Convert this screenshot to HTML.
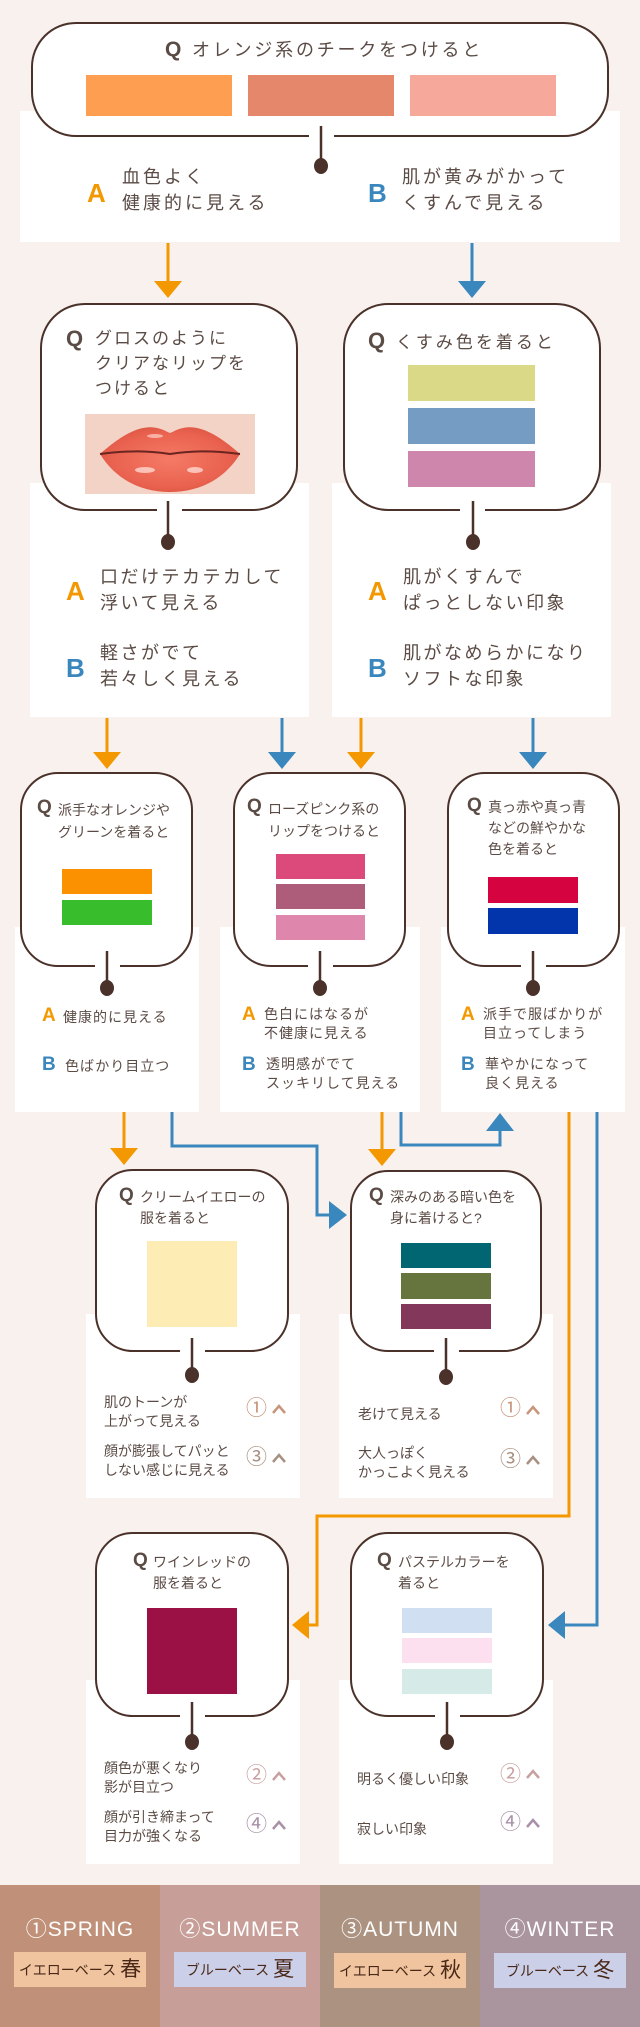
<!DOCTYPE html>
<html><head><meta charset="utf-8">
<style>
*{margin:0;padding:0;box-sizing:border-box}
body{width:640px;height:2027px;background:#f9f1ee;position:relative;overflow:hidden;font-family:"Liberation Sans","Noto Sans CJK JP",sans-serif;color:#5b4b45}
.a{position:absolute}
.p{position:absolute;background:#fff}
.b{position:absolute;background:#fff;border:2.5px solid #4a3129}
.gap{position:absolute;background:#fff;height:5px}
.t{position:absolute;white-space:nowrap}
.q{font-weight:bold;color:#5b4b45}
.A{position:absolute;color:#f39800;font-weight:bold}
.B{position:absolute;color:#3a87bd;font-weight:bold}
.sw{position:absolute}
.ft{position:absolute;top:1885px;height:142px;width:160px}
.ft .tt{position:absolute;top:28px;left:0;width:160px;text-align:center;color:#fff;font-size:21px;letter-spacing:1px;white-space:nowrap}
.ft .lb{position:absolute;top:67px;left:14px;width:132px;height:35px;text-align:center;color:#4a2818;font-size:14px;line-height:35px;white-space:nowrap}
.ft .lb b{font-size:21px;font-weight:normal;margin-left:4px;vertical-align:-1px}
.cn{position:absolute;font-size:21px;white-space:nowrap;line-height:22px}
</style></head><body>

<!-- white panels -->
<div class="p" style="left:20px;top:111px;width:600px;height:131px"></div>
<div class="p" style="left:30px;top:483px;width:279px;height:234px"></div>
<div class="p" style="left:332px;top:483px;width:279px;height:234px"></div>
<div class="p" style="left:15px;top:927px;width:184px;height:185px"></div>
<div class="p" style="left:220px;top:927px;width:200px;height:185px"></div>
<div class="p" style="left:441px;top:927px;width:184px;height:185px"></div>
<div class="p" style="left:86px;top:1314px;width:214px;height:184px"></div>
<div class="p" style="left:339px;top:1314px;width:214px;height:184px"></div>
<div class="p" style="left:86px;top:1680px;width:214px;height:184px"></div>
<div class="p" style="left:339px;top:1680px;width:214px;height:184px"></div>

<!-- boxes -->
<div class="b" style="left:31px;top:22px;width:578px;height:115px;border-radius:45px"></div>
<div class="gap" style="left:309px;top:133px;width:25px"></div>
<div class="b" style="left:40px;top:303px;width:258px;height:208px;border-radius:45px"></div>
<div class="gap" style="left:157px;top:507px;width:25px"></div>
<div class="b" style="left:343px;top:303px;width:258px;height:208px;border-radius:45px"></div>
<div class="gap" style="left:460px;top:507px;width:25px"></div>
<div class="b" style="left:20px;top:772px;width:173px;height:195px;border-radius:38px"></div>
<div class="gap" style="left:95px;top:963px;width:25px"></div>
<div class="b" style="left:233px;top:772px;width:173px;height:195px;border-radius:38px"></div>
<div class="gap" style="left:308px;top:963px;width:25px"></div>
<div class="b" style="left:447px;top:772px;width:173px;height:195px;border-radius:38px"></div>
<div class="gap" style="left:521px;top:963px;width:25px"></div>
<div class="b" style="left:95px;top:1169px;width:194px;height:183px;border-radius:38px"></div>
<div class="gap" style="left:180px;top:1348px;width:25px"></div>
<div class="b" style="left:350px;top:1170px;width:192px;height:182px;border-radius:38px"></div>
<div class="gap" style="left:434px;top:1348px;width:25px"></div>
<div class="b" style="left:95px;top:1532px;width:194px;height:185px;border-radius:38px"></div>
<div class="gap" style="left:180px;top:1713px;width:25px"></div>
<div class="b" style="left:350px;top:1532px;width:194px;height:185px;border-radius:38px"></div>
<div class="gap" style="left:435px;top:1713px;width:25px"></div>

<!-- connectors & arrows -->
<svg class="a" style="left:0;top:0" width="640" height="2027">
<g stroke="#4a3129" stroke-width="2.5" fill="none">
<path d="M321 126V164M168 501V542M473 501V542M107 951V987M320 951V987M533 951V987M192 1338V1375M446 1338V1377M192 1702V1742M447 1702V1742"/>
</g>
<g fill="#4a3129">
<ellipse cx="321" cy="166" rx="7" ry="8"/><ellipse cx="168" cy="542" rx="7" ry="8"/><ellipse cx="473" cy="542" rx="7" ry="8"/>
<ellipse cx="107" cy="988" rx="7" ry="8"/><ellipse cx="320" cy="988" rx="7" ry="8"/><ellipse cx="533" cy="988" rx="7" ry="8"/>
<ellipse cx="192" cy="1375" rx="7" ry="8"/><ellipse cx="446" cy="1377" rx="7" ry="8"/><ellipse cx="192" cy="1742" rx="7" ry="8"/><ellipse cx="447" cy="1742" rx="7" ry="8"/>
</g>
<g stroke="#f39800" stroke-width="3" fill="none">
<path d="M168 243V282M107 718V753M361 718V753M124 1112V1149M382 1112V1150M569 1112V1516H317V1625H309"/>
</g>
<g fill="#f39800">
<path d="M154 281H182L168 298ZM93 752H121L107 769ZM347 752H375L361 769ZM110 1148H138L124 1165ZM368 1149H396L382 1166ZM309 1611V1639L292 1625Z"/>
</g>
<g stroke="#3a87bd" stroke-width="3" fill="none">
<path d="M472 243V282M282 718V753M533 718V753M172 1112V1146H317V1215H330M401 1112V1145H500V1130M597 1112V1625H565"/>
</g>
<g fill="#3a87bd">
<path d="M458 281H486L472 298ZM268 752H296L282 769ZM519 752H547L533 769ZM329 1201V1229L347 1215ZM486 1131H514L500 1113ZM565 1611V1639L548 1625Z"/>
</g>
</svg>

<!-- top -->
<div class="t" style="left:165px;top:36px;font-size:18px;letter-spacing:2.8px"><span class="q" style="font-size:21px">Q</span> オレンジ系のチークをつけると</div>
<div class="sw" style="left:86px;top:75px;width:146px;height:41px;background:#fd9e50"></div>
<div class="sw" style="left:248px;top:75px;width:146px;height:41px;background:#e5876a"></div>
<div class="sw" style="left:410px;top:75px;width:146px;height:41px;background:#f6a89b"></div>
<div class="A" style="left:87px;top:178px;font-size:26px">A</div>
<div class="t" style="left:122px;top:164px;font-size:18px;letter-spacing:3px;line-height:26px">血色よく<br>健康的に見える</div>
<div class="B" style="left:368px;top:178px;font-size:26px">B</div>
<div class="t" style="left:402px;top:164px;font-size:18px;letter-spacing:3px;line-height:26px">肌が黄みがかって<br>くすんで見える</div>

<!-- row2 -->
<div class="t" style="left:66px;top:326px;font-size:17px;letter-spacing:2px;line-height:25px"><span class="q" style="font-size:22px;position:absolute;left:0;top:0">Q</span><div style="margin-left:29px">グロスのように<br>クリアなリップを<br>つけると</div></div>
<svg class="a" style="left:85px;top:414px" width="170" height="80">
<defs><radialGradient id="lg" cx="0.5" cy="0.5" r="0.6"><stop offset="0" stop-color="#f57a66"/><stop offset="0.7" stop-color="#e9624f"/><stop offset="1" stop-color="#d9503f"/></radialGradient></defs>
<rect width="170" height="80" fill="#f3d3c6"/>
<path d="M15 40C35 22 55 10 72 14C78 15 82 18 85 19C88 18 92 15 98 14C115 10 135 22 155 40C135 72 105 78 85 78C65 78 35 72 15 40Z" fill="url(#lg)"/>
<path d="M15 40C45 36 65 37 85 40C105 37 125 36 155 40" stroke="#6a2520" stroke-width="2" fill="none"/>
<ellipse cx="60" cy="56" rx="10" ry="3" fill="#ffd8d0" opacity="0.8"/><ellipse cx="110" cy="56" rx="8" ry="3" fill="#ffd8d0" opacity="0.8"/><ellipse cx="70" cy="22" rx="8" ry="2" fill="#ffd0c8" opacity="0.7"/>
</svg>
<div class="t" style="left:368px;top:328px;font-size:17px;letter-spacing:3px"><span class="q" style="font-size:22px">Q</span> くすみ色を着ると</div>
<div class="sw" style="left:408px;top:365px;width:127px;height:36px;background:#dad987"></div>
<div class="sw" style="left:408px;top:408px;width:127px;height:36px;background:#759cc3"></div>
<div class="sw" style="left:408px;top:451px;width:127px;height:36px;background:#ce86ad"></div>
<div class="A" style="left:66px;top:576px;font-size:26px">A</div>
<div class="t" style="left:100px;top:564px;font-size:18px;letter-spacing:2.5px;line-height:26px">口だけテカテカして<br>浮いて見える</div>
<div class="B" style="left:66px;top:653px;font-size:26px">B</div>
<div class="t" style="left:100px;top:640px;font-size:18px;letter-spacing:2.5px;line-height:26px">軽さがでて<br>若々しく見える</div>
<div class="A" style="left:368px;top:576px;font-size:26px">A</div>
<div class="t" style="left:403px;top:564px;font-size:18px;letter-spacing:2.5px;line-height:26px">肌がくすんで<br>ぱっとしない印象</div>
<div class="B" style="left:368px;top:653px;font-size:26px">B</div>
<div class="t" style="left:403px;top:640px;font-size:18px;letter-spacing:2.5px;line-height:26px">肌がなめらかになり<br>ソフトな印象</div>

<!-- row3 -->
<div class="t" style="left:37px;top:799px;font-size:14px;line-height:22px"><span class="q" style="font-size:19px;position:absolute;left:0;top:-2px">Q</span><div style="margin-left:21px">派手なオレンジや<br>グリーンを着ると</div></div>
<div class="sw" style="left:62px;top:869px;width:90px;height:25px;background:#fb9001"></div>
<div class="sw" style="left:62px;top:900px;width:90px;height:25px;background:#38bd2d"></div>
<div class="t" style="left:247px;top:798px;font-size:14px;line-height:22px"><span class="q" style="font-size:19px;position:absolute;left:0;top:-2px">Q</span><div style="margin-left:21px">ローズピンク系の<br>リップをつけると</div></div>
<div class="sw" style="left:276px;top:854px;width:89px;height:25px;background:#dc4a7c"></div>
<div class="sw" style="left:276px;top:884px;width:89px;height:25px;background:#ad5c7a"></div>
<div class="sw" style="left:276px;top:915px;width:89px;height:25px;background:#df86ad"></div>
<div class="t" style="left:467px;top:797px;font-size:14px;line-height:21px"><span class="q" style="font-size:19px;position:absolute;left:0;top:-2px">Q</span><div style="margin-left:21px">真っ赤や真っ青<br>などの鮮やかな<br>色を着ると</div></div>
<div class="sw" style="left:488px;top:877px;width:90px;height:26px;background:#d50441"></div>
<div class="sw" style="left:488px;top:908px;width:90px;height:26px;background:#0234ab"></div>
<div class="A" style="left:42px;top:1005px;font-size:19px">A</div>
<div class="t" style="left:63px;top:1007px;font-size:14px;letter-spacing:1px">健康的に見える</div>
<div class="B" style="left:42px;top:1054px;font-size:19px">B</div>
<div class="t" style="left:65px;top:1056px;font-size:14px;letter-spacing:1px">色ばかり目立つ</div>
<div class="A" style="left:242px;top:1004px;font-size:19px">A</div>
<div class="t" style="left:264px;top:1005px;font-size:14px;letter-spacing:1px;line-height:19px">色白にはなるが<br>不健康に見える</div>
<div class="B" style="left:242px;top:1054px;font-size:19px">B</div>
<div class="t" style="left:266px;top:1055px;font-size:14px;letter-spacing:1px;line-height:19px">透明感がでて<br>スッキリして見える</div>
<div class="A" style="left:461px;top:1004px;font-size:19px">A</div>
<div class="t" style="left:483px;top:1005px;font-size:14px;letter-spacing:1px;line-height:19px">派手で服ばかりが<br>目立ってしまう</div>
<div class="B" style="left:461px;top:1054px;font-size:19px">B</div>
<div class="t" style="left:485px;top:1055px;font-size:14px;letter-spacing:1px;line-height:19px">華やかになって<br>良く見える</div>

<!-- row4 -->
<div class="t" style="left:119px;top:1187px;font-size:14px;line-height:21px"><span class="q" style="font-size:19px;position:absolute;left:0;top:-2px">Q</span><div style="margin-left:21px">クリームイエローの<br>服を着ると</div></div>
<div class="sw" style="left:147px;top:1241px;width:90px;height:86px;background:#feecb5"></div>
<div class="t" style="left:369px;top:1187px;font-size:14px;line-height:21px"><span class="q" style="font-size:19px;position:absolute;left:0;top:-2px">Q</span><div style="margin-left:21px">深みのある暗い色を<br>身に着けると?</div></div>
<div class="sw" style="left:401px;top:1243px;width:90px;height:25px;background:#016572"></div>
<div class="sw" style="left:401px;top:1273px;width:90px;height:26px;background:#66743e"></div>
<div class="sw" style="left:401px;top:1304px;width:90px;height:25px;background:#82375b"></div>
<div class="t" style="left:104px;top:1393px;font-size:14px;line-height:19px">肌のトーンが<br>上がって見える</div>
<div class="t" style="left:104px;top:1442px;font-size:14px;line-height:19px">顔が膨張してパッと<br>しない感じに見える</div>
<div class="t" style="left:358px;top:1404px;font-size:14px">老けて見える</div>
<div class="t" style="left:358px;top:1444px;font-size:14px;line-height:19px">大人っぽく<br>かっこよく見える</div>
<div class="t" style="left:104px;top:1759px;font-size:14px;line-height:19px">顔色が悪くなり<br>影が目立つ</div>
<div class="t" style="left:104px;top:1808px;font-size:14px;line-height:19px">顔が引き締まって<br>目力が強くなる</div>
<div class="t" style="left:357px;top:1769px;font-size:14px">明るく優しい印象</div>
<div class="t" style="left:357px;top:1819px;font-size:14px">寂しい印象</div>

<!-- row5 -->
<div class="t" style="left:139px;top:1552px;font-size:14px;line-height:21px"><span class="q" style="font-size:19px;position:absolute;left:-6px;top:-2px">Q</span><div style="margin-left:14px">ワインレッドの<br>服を着ると</div></div>
<div class="sw" style="left:147px;top:1608px;width:90px;height:86px;background:#9b1045"></div>
<div class="t" style="left:377px;top:1552px;font-size:14px;line-height:21px"><span class="q" style="font-size:19px;position:absolute;left:0;top:-2px">Q</span><div style="margin-left:21px">パステルカラーを<br>着ると</div></div>
<div class="sw" style="left:402px;top:1608px;width:90px;height:25px;background:#d1dff3"></div>
<div class="sw" style="left:402px;top:1638px;width:90px;height:25px;background:#fde0f0"></div>
<div class="sw" style="left:402px;top:1669px;width:90px;height:25px;background:#d6eae7"></div>

<!-- circled numbers -->
<div class="cn" style="left:246px;top:1398px;color:#c8957a">①</div>
<div class="cn" style="left:246px;top:1447px;color:#a89080">③</div>
<div class="cn" style="left:500px;top:1398px;color:#c8957a">①</div>
<div class="cn" style="left:500px;top:1449px;color:#a89080">③</div>
<div class="cn" style="left:246px;top:1765px;color:#c9a0a0">②</div>
<div class="cn" style="left:246px;top:1814px;color:#a890a8">④</div>
<div class="cn" style="left:500px;top:1764px;color:#c9a0a0">②</div>
<div class="cn" style="left:500px;top:1812px;color:#a890a8">④</div>
<svg class="a" style="left:0;top:0" width="640" height="2027" fill="none" stroke-width="2.5">
<path d="M273 1413L279 1406L285 1413" stroke="#c8957a"/>
<path d="M273 1462L279 1455L285 1462" stroke="#a89080"/>
<path d="M527 1414L533 1407L539 1414" stroke="#c8957a"/>
<path d="M527 1464L533 1457L539 1464" stroke="#a89080"/>
<path d="M273 1780L279 1773L285 1780" stroke="#c9a0a0"/>
<path d="M273 1829L279 1822L285 1829" stroke="#a890a8"/>
<path d="M527 1778L533 1771L539 1778" stroke="#c9a0a0"/>
<path d="M527 1827L533 1820L539 1827" stroke="#a890a8"/>
</svg>

<!-- footer -->
<div class="ft" style="left:0;background:#c09079"><div class="tt">①SPRING</div><div class="lb" style="background:#efc49f">イエローベース<b>春</b></div></div>
<div class="ft" style="left:160px;background:#c79f98"><div class="tt">②SUMMER</div><div class="lb" style="background:#cbcfe8">ブルーベース<b>夏</b></div></div>
<div class="ft" style="left:320px;background:#ac9381"><div class="tt">③AUTUMN</div><div class="lb" style="background:#efc49f;top:68px">イエローベース<b>秋</b></div></div>
<div class="ft" style="left:480px;background:#aa959e"><div class="tt">④WINTER</div><div class="lb" style="background:#cbcfe8;top:68px">ブルーベース<b>冬</b></div></div>

</body></html>
